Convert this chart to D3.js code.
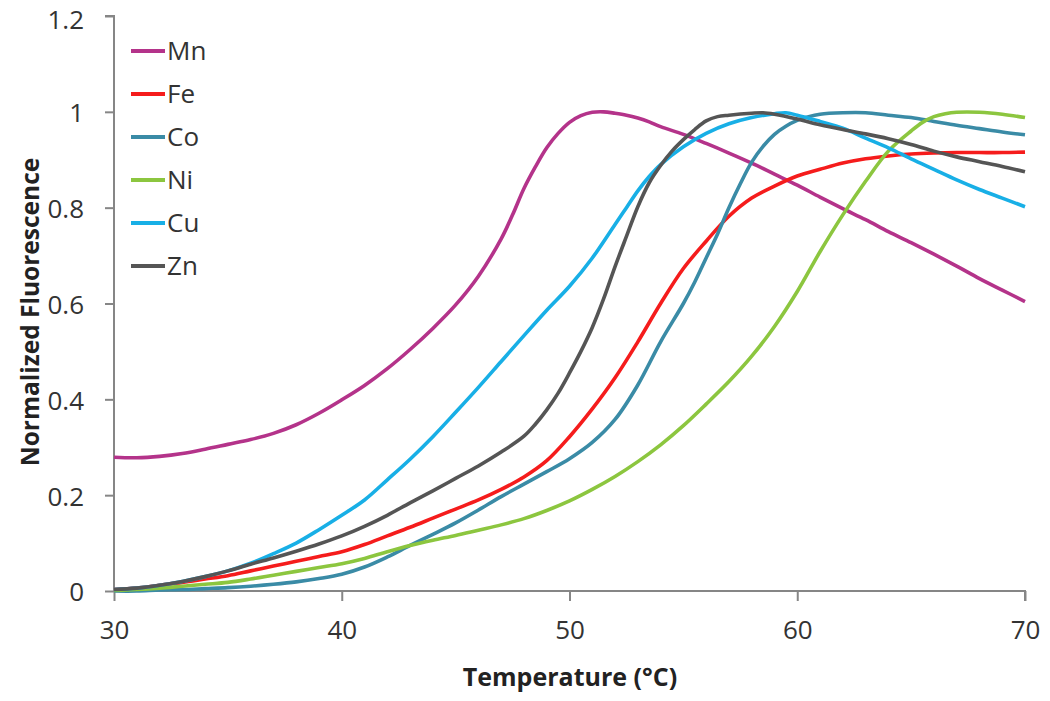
<!DOCTYPE html>
<html><head><meta charset="utf-8">
<script src="https://cdn.jsdelivr.net/npm/d3@7"></script>
<style>html,body{margin:0;padding:0;background:#fff;}svg{display:block;}</style>
</head><body>
<svg id="c" width="1050" height="701"></svg>
<script>
const seriesNames = ["Mn","Fe","Co","Ni","Cu","Zn"];
const seriesColors = ["#b4338a","#f51c1c","#3a8ba6","#8cc63f","#18afe6","#555555"];
const xTicks = [30,40,50,60,70];
const yTicks = [0,0.2,0.4,0.6,0.8,1,1.2];

const mnT = [30,31,32,33,34,35,36,37,38,39,40,41,42,43,44,45,46,47,47.5,48,48.5,49,49.5,50,50.5,51,51.5,52,52.5,53,53.5,54,55,56,57,58,59,60,61,62,63,64,65,66,67,68,69,70];
const mnV = [0.279,0.278,0.281,0.287,0.296,0.306,0.316,0.329,0.347,0.371,0.399,0.429,0.464,0.504,0.548,0.597,0.657,0.735,0.785,0.84,0.885,0.925,0.955,0.978,0.992,0.999,1.0,0.997,0.993,0.987,0.979,0.969,0.953,0.934,0.914,0.893,0.87,0.847,0.822,0.798,0.775,0.75,0.727,0.703,0.678,0.652,0.628,0.604];

const feT = [30,31,32,33,34,35,36,37,38,39,40,41,42,43,44,45,46,47,48,49,50,51,52,53,54,55,56,57,58,59,60,61,62,63,64,65,66,67,68,69,70];
const feV = [0.003,0.006,0.012,0.018,0.025,0.032,0.042,0.052,0.062,0.072,0.082,0.097,0.115,0.133,0.152,0.171,0.19,0.212,0.238,0.272,0.322,0.38,0.445,0.52,0.6,0.673,0.73,0.782,0.82,0.845,0.866,0.88,0.893,0.902,0.908,0.912,0.914,0.915,0.915,0.915,0.916];

const coT = [30,31,32,33,34,35,36,37,38,39,40,41,42,43,44,45,46,47,48,49,50,51,52,53,54,55,55.5,56,56.5,57,57.5,58,58.5,59,59.5,60,60.5,61,62,63,64,65,66,67,68,69,70];
const coV = [0.0,0.0,0.002,0.003,0.005,0.007,0.01,0.014,0.019,0.026,0.035,0.05,0.071,0.095,0.118,0.142,0.169,0.197,0.223,0.249,0.276,0.31,0.358,0.43,0.52,0.6,0.645,0.695,0.745,0.8,0.85,0.895,0.928,0.953,0.97,0.982,0.99,0.995,0.998,0.998,0.993,0.988,0.98,0.972,0.965,0.958,0.952];

const niT = [30,31,32,33,34,35,36,37,38,39,40,41,42,43,44,45,46,47,48,49,50,51,52,53,54,55,56,57,58,59,60,61,62,63,64,65,65.5,66,66.5,67,68,69,70];
const niV = [0.001,0.003,0.006,0.01,0.014,0.018,0.025,0.033,0.041,0.049,0.057,0.068,0.082,0.095,0.106,0.116,0.127,0.138,0.151,0.168,0.188,0.212,0.239,0.27,0.305,0.345,0.39,0.437,0.49,0.552,0.625,0.708,0.785,0.855,0.918,0.96,0.978,0.99,0.996,0.999,0.999,0.995,0.988];

const cuT = [30,31,32,33,34,35,36,37,38,39,40,41,42,43,44,45,46,47,48,49,50,51,52,52.5,53,53.5,54,55,56,57,58,59,59.5,60,61,62,63,64,65,66,67,68,69,70];
const cuV = [0.003,0.006,0.012,0.02,0.03,0.042,0.058,0.078,0.1,0.128,0.158,0.19,0.232,0.275,0.322,0.373,0.425,0.479,0.533,0.586,0.636,0.695,0.765,0.8,0.835,0.865,0.89,0.927,0.955,0.975,0.988,0.996,0.998,0.993,0.98,0.966,0.945,0.925,0.902,0.88,0.858,0.838,0.82,0.802];

const znT = [30,31,32,33,34,35,36,37,38,39,40,41,42,43,44,45,46,47,48,48.5,49,49.5,50,50.5,51,51.5,52,52.5,53,53.5,54,54.5,55,55.5,56,56.5,57,58,58.5,59,60,61,62,63,64,65,66,67,68,69,70];
const znV = [0.003,0.006,0.012,0.02,0.03,0.042,0.056,0.069,0.083,0.098,0.115,0.135,0.158,0.184,0.209,0.235,0.261,0.29,0.323,0.348,0.378,0.413,0.455,0.5,0.55,0.61,0.677,0.74,0.802,0.852,0.888,0.918,0.942,0.963,0.981,0.99,0.993,0.997,0.998,0.995,0.985,0.973,0.963,0.954,0.944,0.932,0.918,0.906,0.896,0.886,0.875];

const seriesT = [mnT,feT,coT,niT,cuT,znT];
const seriesV = [mnV,feV,coV,niV,cuV,znV];

const svg = d3.select("#c");
const pLeft = 114, pRight = 1025, pTop = 16, pBottom = 591;
const x = d3.scaleLinear().domain([30,70]).range([pLeft,pRight]);
const y = d3.scaleLinear().domain([0,1.2]).range([pBottom,pTop]);
const font = "'Open Sans', 'Liberation Sans', sans-serif";
const axisColor = "#868686";

const yAxis = svg.append("g").attr("transform",`translate(${pLeft},0)`)
  .call(d3.axisLeft(y).tickValues(yTicks).tickSize(9).tickPadding(21).tickFormat(d=>String(+d.toFixed(1))));
const xAxis = svg.append("g").attr("transform",`translate(0,${pBottom})`)
  .call(d3.axisBottom(x).tickValues(xTicks).tickSize(10).tickPadding(20).tickFormat(d3.format("d")));
[xAxis,yAxis].forEach(g=>{
  g.selectAll("path.domain").attr("stroke",axisColor).attr("stroke-width",2);
  g.selectAll(".tick line").attr("stroke",axisColor).attr("stroke-width",2);
  g.selectAll(".tick text").attr("fill","#333").attr("font-size",26).attr("font-family",font);
});
yAxis.selectAll(".tick text").attr("dy","0.38em");
yAxis.selectAll(".tick text").filter(d=>d===1.2).attr("y",3);
yAxis.select("path.domain").attr("d",`M-9,${pTop}H0V${pBottom}`);
xAxis.select("path.domain").attr("d",`M${pLeft},0H${pRight}V10`);

const line = d3.line().x(d=>x(d[0])).y(d=>y(d[1])).curve(d3.curveCatmullRom.alpha(0.5));
seriesNames.forEach((n,i)=>{
  const pts = seriesT[i].map((t,j)=>[t,seriesV[i][j]]);
  svg.append("path").datum(pts).attr("d",line).attr("fill","none")
    .attr("stroke",seriesColors[i]).attr("stroke-width",3.6).attr("stroke-linejoin","round");
});

const lg = svg.append("g");
seriesNames.forEach((n,i)=>{
  const yy = 51 + i*43;
  lg.append("line").attr("x1",131).attr("x2",165).attr("y1",yy).attr("y2",yy)
    .attr("stroke",seriesColors[i]).attr("stroke-width",4);
  lg.append("text").attr("x",167).attr("y",yy).attr("dy","0.36em").text(n)
    .attr("font-size",26).attr("font-family",font).attr("fill","#333");
});

svg.append("text").attr("x",570).attr("y",686).attr("text-anchor","middle")
  .attr("font-family",font).attr("font-weight","bold").attr("font-size",25).attr("fill","#222")
  .text("Temperature (°C)");
svg.append("text").attr("transform",`translate(39,312) rotate(-90)`).attr("text-anchor","middle")
  .attr("font-family",font).attr("font-weight","bold").attr("font-size",24.5).attr("fill","#222")
  .text("Normalized Fluorescence");
</script>
</body></html>
